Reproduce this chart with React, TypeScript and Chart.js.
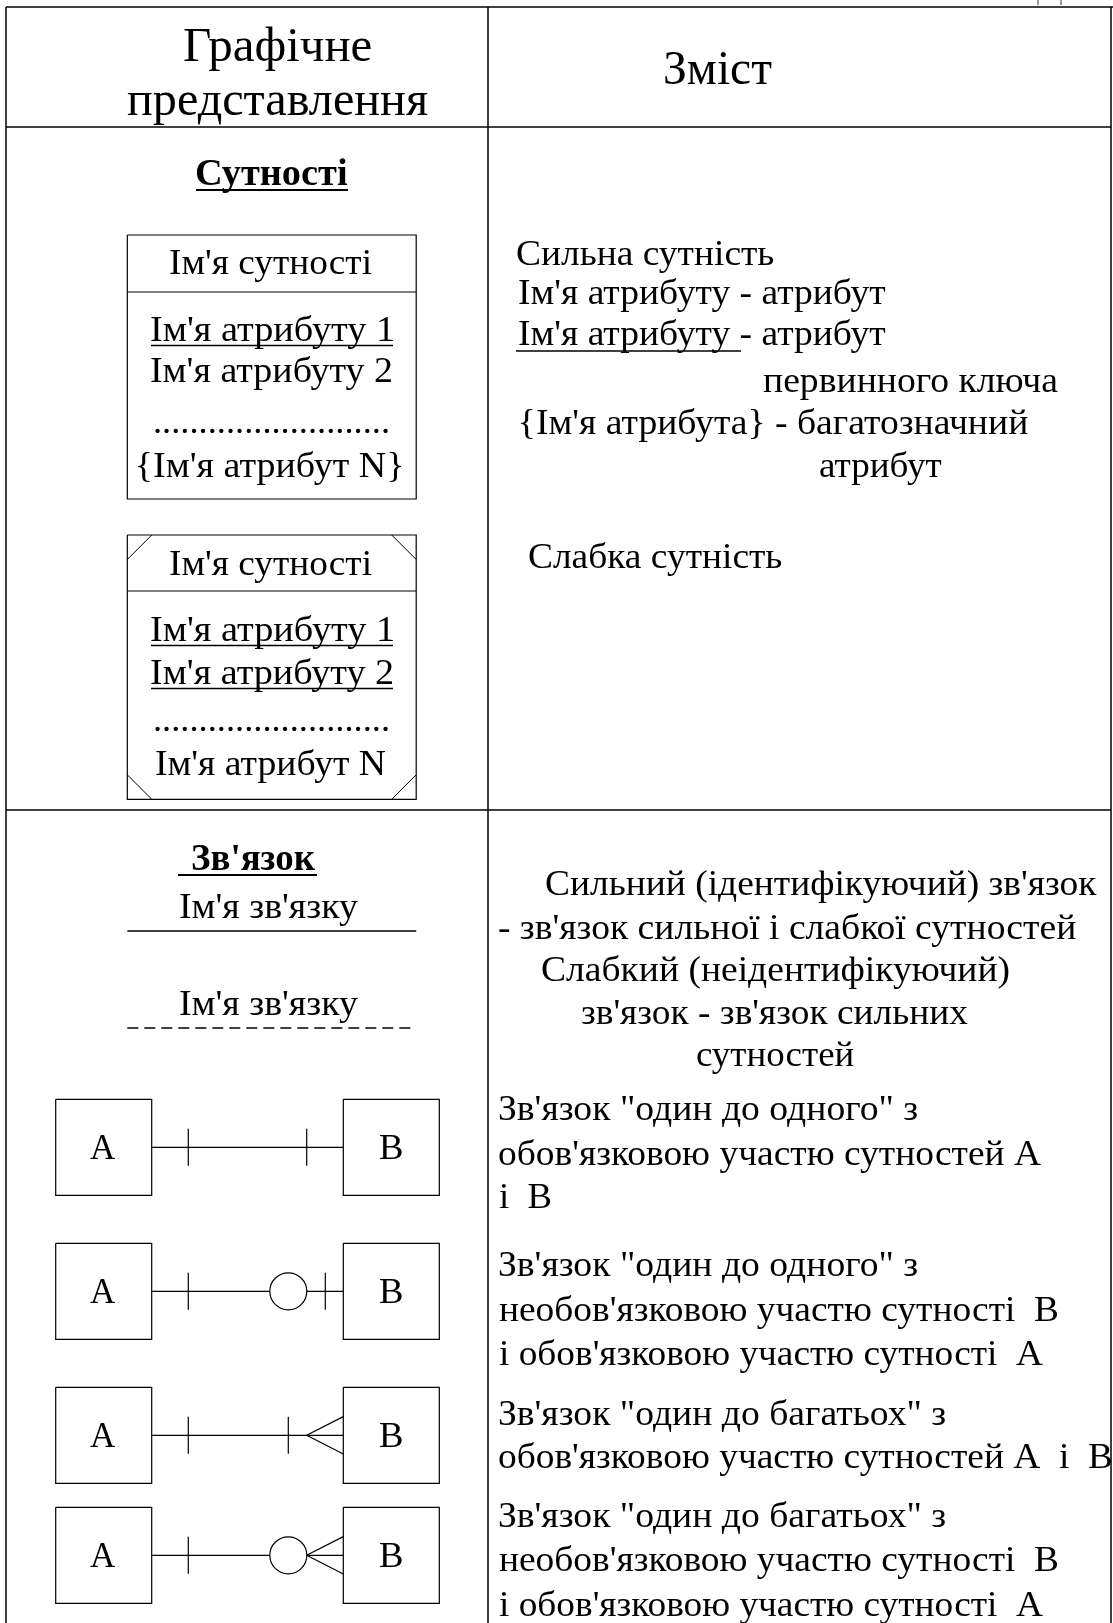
import React, { useEffect, useRef } from "react";
import { Chart, registerables } from "chart.js";

Chart.register(...registerables);

const W = 1113;
const H = 1623;

// ---------- text content ----------
const HEADER_TITLES = ["Графічне", "представлення", "Зміст"];
const SECTION_TITLES = ["Сутності", "Зв'язок"];
const STRONG_ENTITY = ["Ім'я сутності", "Ім'я атрибуту 1", "Ім'я атрибуту 2", "..........................", "{Ім'я атрибут N}"];
const WEAK_ENTITY = ["Ім'я сутності", "Ім'я атрибуту 1", "Ім'я атрибуту 2", "..........................", "Ім'я атрибут N"];
const ENTITY_NOTES = [
  "Сильна сутність",
  "Ім'я атрибуту - атрибут",
  "Ім'я атрибуту - атрибут",
  "первинного ключа",
  "{Ім'я атрибута} - багатозначний",
  "атрибут",
  "Слабка сутність",
];
const RELATIONSHIP_NAMES = ["Ім'я зв'язку", "Ім'я зв'язку"];
const RELATIONSHIP_NOTES = [
  "Сильний (ідентифікуючий) зв'язок",
  "- зв'язок сильної і слабкої сутностей",
  "Слабкий (неідентифікуючий)",
  "зв'язок - зв'язок сильних",
  "сутностей",
];
const CARDINALITY_NOTES = [
  "Зв'язок \"один до одного\" з",
  "обов'язковою участю сутностей А",
  "і  В",
  "Зв'язок \"один до одного\" з",
  "необов'язковою участю сутності  В",
  "і обов'язковою участю сутності  А",
  "Зв'язок \"один до багатьох\" з",
  "обов'язковою участю сутностей А  і  В",
  "Зв'язок \"один до багатьох\" з",
  "необов'язковою участю сутності  В",
  "і обов'язковою участю сутності  А",
];
const BOX_LETTERS = ["A", "B"];
// right-end notation of each A–B diagram
const CARDINALITY_KINDS = ["one", "optional-one", "many", "optional-many"];

// ---------- layout ----------
type TextItem = { text: string; x0: number; x1: number; y: number; size: number; bold?: boolean };
type Seg = { pts: [number, number][]; width: number; dash?: number[]; color?: string };

const FONT = '"Liberation Serif", "Times New Roman", serif';

const TABLE = { left: 6, mid: 488, right: 1111, top: 7, headBottom: 127, section: 810 };
const ENTITY_BOX = { x0: 127.3, x1: 416.2 };
const BOX1 = { y0: 235, div: 292, y1: 499 };
const BOX2 = { y0: 535, div: 591, y1: 799.3 };
const ROW_CY = [1147.3, 1291.3, 1435.3, 1555.3];
const BOX_A = { x0: 55.7, x1: 151.7 };
const BOX_B = { x0: 343.3, x1: 439.3 };

function buildTexts(): TextItem[] {
  const t: TextItem[] = [];
  const add = (text: string, x0: number, x1: number, y: number, size: number, bold = false) =>
    t.push({ text, x0, x1, y, size, bold });

  add(HEADER_TITLES[0], 184, 371, 61, 48);
  add(HEADER_TITLES[1], 127, 428, 115, 48);
  add(HEADER_TITLES[2], 665, 772, 84, 48);

  add(SECTION_TITLES[0], 196, 347, 185, 38, true);
  add(SECTION_TITLES[1], 192, 315, 870, 38, true);

  const b1y = [274, 341, 382, 433, 477];
  const b1x: [number, number][] = [[170, 372], [151, 393], [151, 392], [155, 388], [138, 402]];
  STRONG_ENTITY.forEach((s, i) => add(s, b1x[i][0], b1x[i][1], b1y[i], 36));
  const b2y = [575, 641, 684, 731, 775];
  const b2x: [number, number][] = [[170, 372], [151, 393], [151, 393], [155, 388], [156, 386]];
  WEAK_ENTITY.forEach((s, i) => add(s, b2x[i][0], b2x[i][1], b2y[i], 36));

  const enX: [number, number][] = [[517, 774], [519, 886], [519, 886], [763, 1058], [521, 1028], [820, 942], [529, 782]];
  const enY = [265, 304, 345, 392, 434, 477, 568];
  ENTITY_NOTES.forEach((s, i) => add(s, enX[i][0], enX[i][1], enY[i], 36));

  add(RELATIONSHIP_NAMES[0], 180, 358, 918, 36);
  add(RELATIONSHIP_NAMES[1], 180, 358, 1015, 36);

  const rnX: [number, number][] = [[546, 1097], [499, 1076], [542, 1009], [582, 968], [697, 854]];
  const rnY = [895, 939, 981, 1024, 1066];
  RELATIONSHIP_NOTES.forEach((s, i) => add(s, rnX[i][0], rnX[i][1], rnY[i], 36));

  const cnR = [918, 1041, 551, 918, 1058, 1043, 946, 1112, 946, 1058, 1043];
  const cnY = [1120, 1165, 1208, 1276, 1321, 1365, 1425, 1468, 1527, 1571, 1616];
  CARDINALITY_NOTES.forEach((s, i) => add(s, 499, cnR[i], cnY[i], 36));

  ROW_CY.forEach((cy) => {
    add(BOX_LETTERS[0], 90, 116, cy + 12, 35);
    add(BOX_LETTERS[1], 380, 402, cy + 12, 35);
  });
  return t;
}

function rect(x0: number, y0: number, x1: number, y1: number, width: number): Seg {
  return { pts: [[x0, y0], [x1, y0], [x1, y1], [x0, y1], [x0, y0]], width };
}

function buildSegments(): { segs: Seg[]; circles: [number, number][] } {
  const segs: Seg[] = [];
  const circles: [number, number][] = [];
  const L = (pts: [number, number][], width = 1.2, dash?: number[], color?: string) =>
    segs.push({ pts, width, dash, color });

  // table grid
  L([[TABLE.left, TABLE.top], [W, TABLE.top]], 1.5);
  L([[TABLE.left, TABLE.headBottom], [TABLE.right, TABLE.headBottom]], 1.5);
  L([[TABLE.left, TABLE.section], [TABLE.right, TABLE.section]], 1.5);
  L([[TABLE.left, TABLE.top], [TABLE.left, H]], 1.5);
  L([[TABLE.mid, TABLE.top], [TABLE.mid, H]], 1.5);
  L([[TABLE.right, TABLE.top], [TABLE.right, H]], 1.5);

  // clipped glyph fragments above the table (top-right)
  L([[1038, 0], [1038, 5]], 1.5, undefined, "#777");
  L([[1061, 0], [1061, 5]], 1.5, undefined, "#777");

  // section title underlines
  L([[196, 190], [348, 190]], 2);
  L([[178, 875], [317, 875]], 2);

  // strong entity
  segs.push(rect(ENTITY_BOX.x0, BOX1.y0, ENTITY_BOX.x1, BOX1.y1, 1.2));
  L([[ENTITY_BOX.x0, BOX1.div], [ENTITY_BOX.x1, BOX1.div]]);
  L([[151, 345.5], [393, 345.5]], 1.5);

  // weak entity
  segs.push(rect(ENTITY_BOX.x0, BOX2.y0, ENTITY_BOX.x1, BOX2.y1, 1.2));
  L([[ENTITY_BOX.x0, BOX2.div], [ENTITY_BOX.x1, BOX2.div]]);
  L([[151, 645.5], [393, 645.5]], 1.5);
  L([[151, 688.5], [393, 688.5]], 1.5);
  const c = 24.5;
  L([[ENTITY_BOX.x0, BOX2.y0 + c], [ENTITY_BOX.x0 + c, BOX2.y0]], 1);
  L([[ENTITY_BOX.x1 - c, BOX2.y0], [ENTITY_BOX.x1, BOX2.y0 + c]], 1);
  L([[ENTITY_BOX.x0, BOX2.y1 - c], [ENTITY_BOX.x0 + c, BOX2.y1]], 1);
  L([[ENTITY_BOX.x1 - c, BOX2.y1], [ENTITY_BOX.x1, BOX2.y1 - c]], 1);

  // entity notes underline
  L([[516, 351], [741, 351]], 1.5);

  // relationship name lines
  L([[ENTITY_BOX.x0, 931], [ENTITY_BOX.x1, 931]], 1.3);
  L([[ENTITY_BOX.x0, 1028], [ENTITY_BOX.x1, 1028]], 1.3, [11, 6]);

  // cardinality diagrams
  const tick = 18.5;
  ROW_CY.forEach((cy, i) => {
    const kind = CARDINALITY_KINDS[i];
    segs.push(rect(BOX_A.x0, cy - 48, BOX_A.x1, cy + 48, 1.2));
    segs.push(rect(BOX_B.x0, cy - 48, BOX_B.x1, cy + 48, 1.2));
    L([[BOX_A.x1, cy], [BOX_B.x0, cy]]);
    L([[188.3, cy - tick], [188.3, cy + tick]]);
    if (kind === "one") {
      L([[306.7, cy - tick], [306.7, cy + tick]]);
    } else if (kind === "optional-one") {
      circles.push([288.3, cy]);
      L([[325.3, cy - tick], [325.3, cy + tick]]);
    } else if (kind === "many") {
      L([[288.3, cy - tick], [288.3, cy + tick]]);
      L([[BOX_B.x0, cy - 18.7], [306.7, cy], [BOX_B.x0, cy + 18.7]]);
    } else {
      circles.push([288.3, cy]);
      L([[BOX_B.x0, cy - 18.7], [306.7, cy], [BOX_B.x0, cy + 18.7]]);
    }
  });
  return { segs, circles };
}

const textPlugin = {
  id: "diagramText",
  afterDatasetsDraw(chart: any) {
    const { ctx, scales } = chart;
    const xs = scales.x;
    const ys = scales.y;
    ctx.save();
    ctx.fillStyle = "#000";
    ctx.textAlign = "left";
    ctx.textBaseline = "alphabetic";
    for (const it of buildTexts()) {
      ctx.font = `${it.bold ? "bold " : ""}${it.size}px ${FONT}`;
      const m = ctx.measureText(it.text);
      const ink = m.actualBoundingBoxLeft + m.actualBoundingBoxRight;
      const px0 = xs.getPixelForValue(it.x0);
      const px1 = xs.getPixelForValue(it.x1);
      const py = ys.getPixelForValue(it.y);
      const sx = ink > 0 ? (px1 - px0) / ink : 1;
      ctx.save();
      ctx.translate(px0 + m.actualBoundingBoxLeft * sx, py);
      ctx.scale(sx, 1);
      ctx.fillText(it.text, 0, 0);
      ctx.restore();
    }
    ctx.restore();
  },
};

export default function App() {
  const ref = useRef<HTMLCanvasElement | null>(null);
  useEffect(() => {
    document.body.style.margin = "0";
    const canvas = ref.current;
    if (!canvas) return;
    const { segs, circles } = buildSegments();
    const datasets: any[] = segs.map((s) => ({
      type: "scatter",
      data: s.pts.map(([x, y]) => ({ x, y })),
      showLine: true,
      borderColor: s.color || "#000",
      borderWidth: s.width,
      borderDash: s.dash || [],
      pointRadius: 0,
      fill: false,
      tension: 0,
      clip: false,
      order: 1,
    }));
    datasets.push({
      type: "scatter",
      data: circles.map(([x, y]) => ({ x, y })),
      showLine: false,
      pointRadius: 18.5,
      pointStyle: "circle",
      pointBackgroundColor: "#fff",
      pointBorderColor: "#000",
      pointBorderWidth: 1.2,
      clip: false,
      order: -1,
    });
    const chart = new Chart(canvas, {
      type: "scatter",
      data: { datasets },
      options: {
        animation: false,
        responsive: false,
        devicePixelRatio: 1,
        events: [],
        layout: { padding: 0, autoPadding: false },
        scales: {
          x: { type: "linear", min: 0, max: W, display: false },
          y: { type: "linear", min: 0, max: H, reverse: true, display: false },
        },
        plugins: { legend: { display: false }, tooltip: { enabled: false }, title: { display: false } },
      },
      plugins: [textPlugin],
    } as any);
    return () => chart.destroy();
  }, []);
  return <canvas ref={ref} width={W} height={H} style={{ display: "block", width: W, height: H }} />;
}
